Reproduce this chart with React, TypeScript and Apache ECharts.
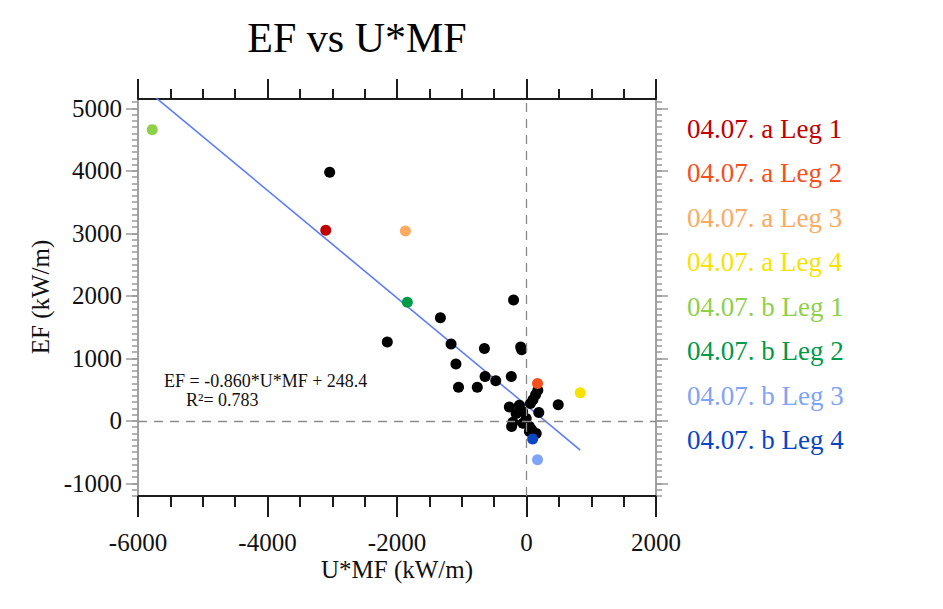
import React, { useEffect, useRef } from 'react';
import * as echarts from 'echarts';

// Legend entries (flight legs) and their colours
const legNames = [
  '04.07. a Leg 1',
  '04.07. a Leg 2',
  '04.07. a Leg 3',
  '04.07. a Leg 4',
  '04.07. b Leg 1',
  '04.07. b Leg 2',
  '04.07. b Leg 3',
  '04.07. b Leg 4',
];
const legColors = ['#c00000', '#f4511e', '#fdaa62', '#f7e200', '#8dd04a', '#009a48', '#7fa4f6', '#0a46c4'];

// Leg averages, [U*MF, EF] in kW/m
const legA1 = [[-3100, 3050]];
const legA2 = [[170, 600]];
const legA3 = [[-1870, 3040]];
const legA4 = [[830, 450]];
const legB1 = [[-5780, 4660]];
const legB2 = [[-1840, 1900]];
const legB3 = [[170, -620]];
const legB4 = [[95, -290]];
const legData = [legA1, legA2, legA3, legA4, legB1, legB2, legB3, legB4];

// Individual segments, [U*MF, EF] in kW/m
const segmentPoints = [
  [-3040, 3980],
  [-200, 1935],
  [-1330, 1650],
  [-2150, 1262],
  [-1165, 1230],
  [-650, 1160],
  [-90, 1185],
  [-75, 1140],
  [-1090, 910],
  [-640, 710],
  [-475, 645],
  [-235, 710],
  [-1050, 540],
  [-760, 540],
  [490, 260],
  [190, 135],
  [175, 490],
  [140, 420],
  [100, 340],
  [60, 280],
  [-265, 225],
  [-110, 250],
  [-160, 120],
  [-60, 150],
  [-210, -20],
  [-230, -90],
  [-5, 40],
  [-55, -35],
  [45, -90],
  [45, -170],
  [150, -200],
  [80, -140],
];

// Linear fit EF = a*U*MF + b
const fitSlope = -0.86;
const fitIntercept = 248.4;
const fitR2 = 0.783;

// Axis ranges and ticks
const xMin = -6000;
const xMax = 2000;
const xStep = 2000;
const yMin = -1200;
const yMax = 5150;
const yMajorTicks = [-1000, 0, 1000, 2000, 3000, 4000, 5000];
const yMinorStep = 100;

const serif = '"Liberation Serif", "Times New Roman", serif';
const plain = (v: number) => String(v);

export default function App() {
  const ref = useRef<HTMLDivElement>(null);

  useEffect(() => {
    if (!ref.current) return;
    const chart = echarts.init(ref.current, undefined, { renderer: 'svg' });

    const yMinorTicks: number[] = [];
    for (let v = yMin; v <= yMax; v += yMinorStep) yMinorTicks.push(v);

    const allX = [...segmentPoints, ...legData.flat()].map((p) => p[0]);
    const fitX0 = Math.min(...allX);
    const fitX1 = Math.max(...allX);
    const fitLine = [
      [fitX0, fitSlope * fitX0 + fitIntercept],
      [fitX1, fitSlope * fitX1 + fitIntercept],
    ];

    const gray = '#9a9a9a';
    const dark = '#1c1c1c';

    const yAxisDef = (position: string, labels: boolean, ticks: number[], len: number) => ({
      type: 'value',
      position,
      min: yMin,
      max: yMax,
      axisLine: { show: true, onZero: false, lineStyle: { color: gray, width: 1.5 } },
      axisTick: { show: true, customValues: ticks, length: len, lineStyle: { color: gray, width: 1.5 } },
      axisLabel: {
        show: labels,
        customValues: yMajorTicks,
        formatter: plain,
        fontFamily: serif,
        fontSize: 25,
        color: '#111',
        margin: 16,
      },
      splitLine: { show: false },
    });

    const xAxisDef = (position: string, labels: boolean, major: number, minor: number) => ({
      type: 'value',
      position,
      min: xMin,
      max: xMax,
      interval: xStep,
      axisLine: { show: true, onZero: false, lineStyle: { color: dark, width: 2 } },
      axisTick: { show: true, length: major, lineStyle: { color: dark, width: 2 } },
      minorTick: { show: true, splitNumber: 4, length: minor, lineStyle: { color: dark, width: 2 } },
      axisLabel: { show: labels, formatter: plain, fontFamily: serif, fontSize: 25, color: '#111', margin: 34 },
      splitLine: { show: false },
      minorSplitLine: { show: false },
    });

    const centered = { align: 'center', verticalAlign: 'middle', textAlign: 'center', textVerticalAlign: 'middle' };
    const leftMid = { align: 'left', verticalAlign: 'middle', textAlign: 'left', textVerticalAlign: 'middle' };

    chart.setOption({
      animation: false,
      backgroundColor: '#ffffff',
      grid: { left: 138, right: 287, top: 99, bottom: 113, containLabel: false },
      xAxis: [xAxisDef('bottom', true, 21, 11), xAxisDef('top', false, 20, 10)],
      yAxis: [
        yAxisDef('left', true, yMajorTicks, 12),
        yAxisDef('left', false, yMinorTicks, 6),
        yAxisDef('right', false, yMajorTicks, 12),
        yAxisDef('right', false, yMinorTicks, 6),
      ],
      legend: {
        orient: 'vertical',
        left: 677,
        top: 110,
        icon: 'none',
        itemWidth: 0,
        itemHeight: 24,
        itemGap: 17.5,
        selectedMode: false,
        textStyle: { fontFamily: serif, fontSize: 27 },
        data: legNames.map((name, i) => ({ name, textStyle: { color: legColors[i] } })),
      },
      graphic: [
        {
          type: 'text',
          x: 357,
          y: 38,
          style: { text: 'EF vs U*MF', font: `42px ${serif}`, fill: '#000', ...centered },
        },
        {
          type: 'text',
          x: 397,
          y: 569,
          style: { text: 'U*MF (kW/m)', font: `25px ${serif}`, fill: '#111', ...centered },
        },
        {
          type: 'text',
          x: 40,
          y: 297,
          rotation: Math.PI / 2,
          style: { text: 'EF (kW/m)', font: `25px ${serif}`, fill: '#111', ...centered },
        },
        {
          type: 'text',
          x: 164,
          y: 381,
          style: {
            text: `EF = ${fitSlope.toFixed(3)}*U*MF + ${fitIntercept.toFixed(1)}`,
            font: `18px ${serif}`,
            fill: '#111',
            ...leftMid,
          },
        },
        {
          type: 'text',
          x: 186,
          y: 400,
          style: { text: `R\u00b2= ${fitR2.toFixed(3)}`, font: `18px ${serif}`, fill: '#111', ...leftMid },
        },
      ],
      series: [
        {
          type: 'line',
          name: 'fit',
          data: fitLine,
          xAxisIndex: 0,
          yAxisIndex: 0,
          symbol: 'none',
          clip: true,
          silent: true,
          z: 1,
          lineStyle: { color: '#5b7cff', width: 1.6 },
          markLine: {
            silent: true,
            symbol: ['none', 'none'],
            label: { show: false },
            lineStyle: { type: [9, 7], color: '#8a8a8a', width: 1.3 },
            data: [{ xAxis: 0 }, { yAxis: 0 }],
          },
        },
        {
          type: 'scatter',
          name: 'segments',
          data: segmentPoints,
          xAxisIndex: 0,
          yAxisIndex: 0,
          symbolSize: 11,
          z: 3,
          itemStyle: { color: '#000000', opacity: 1 },
        },
        ...legData.map((d, i) => ({
          type: 'scatter',
          name: legNames[i],
          data: d,
          xAxisIndex: 0,
          yAxisIndex: 0,
          symbolSize: 11,
          z: 4,
          itemStyle: { color: legColors[i], opacity: 1 },
        })),
      ],
    });

    return () => chart.dispose();
  }, []);

  return <div ref={ref} style={{ width: 943, height: 609, position: 'absolute', left: 0, top: 0 }} />;
}
